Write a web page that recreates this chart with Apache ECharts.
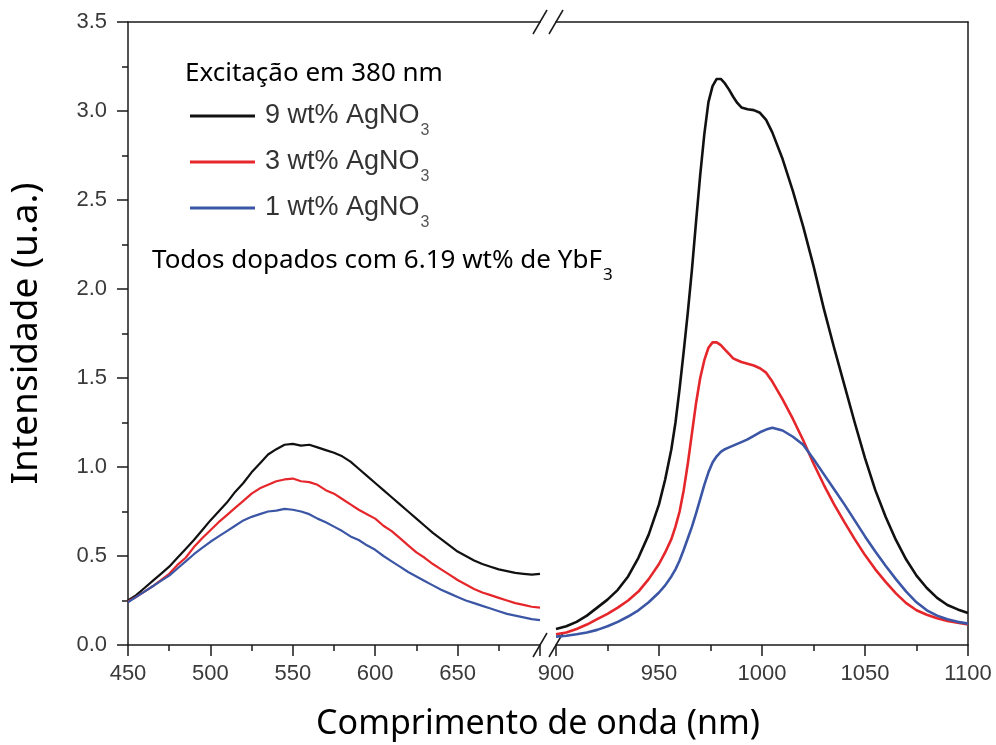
<!DOCTYPE html>
<html>
<head>
<meta charset="utf-8">
<script src="https://cdn.jsdelivr.net/npm/echarts@6/dist/echarts.min.js"></script>
<style>
  html, body { margin: 0; padding: 0; background: #ffffff; }
  #chart { width: 996px; height: 745px; }
</style>
</head>
<body>
<div id="chart"></div>
<script>
// Visible emission band, 450–700 nm
const visNm = [450,455,460,465,470,475,480,485,490,495,500,505,510,515,520,525,530,535,540,545,550,555,560,565,570,575,580,585,590,595,600,605,610,615,620,625,630,635,640,645,650,655,660,665,670,675,680,685,690,695,700];
const visAg9 = [0.25,0.28,0.32,0.36,0.40,0.44,0.49,0.54,0.59,0.645,0.70,0.75,0.80,0.86,0.91,0.97,1.02,1.07,1.10,1.125,1.13,1.12,1.125,1.11,1.095,1.08,1.06,1.03,0.99,0.95,0.91,0.87,0.83,0.79,0.75,0.71,0.67,0.63,0.595,0.56,0.525,0.50,0.475,0.455,0.44,0.425,0.415,0.405,0.40,0.395,0.40];
const visAg3 = [0.245,0.27,0.30,0.33,0.365,0.40,0.45,0.49,0.55,0.60,0.645,0.69,0.73,0.77,0.81,0.85,0.88,0.90,0.92,0.93,0.935,0.92,0.915,0.90,0.87,0.85,0.82,0.79,0.76,0.735,0.71,0.67,0.64,0.60,0.56,0.52,0.49,0.455,0.425,0.395,0.365,0.34,0.315,0.295,0.28,0.265,0.25,0.235,0.225,0.215,0.21];
const visAg1 = [0.24,0.27,0.30,0.33,0.36,0.39,0.43,0.47,0.51,0.545,0.58,0.61,0.64,0.67,0.70,0.72,0.735,0.75,0.755,0.765,0.76,0.75,0.735,0.71,0.69,0.665,0.64,0.61,0.59,0.56,0.535,0.50,0.47,0.44,0.41,0.385,0.36,0.335,0.31,0.29,0.27,0.25,0.235,0.22,0.205,0.19,0.175,0.165,0.155,0.145,0.14];

// Near-infrared emission band, 900–1100 nm
const nirNm = [900,905,910,915,920,925,930,935,940,945,950,953,956,958,960,962,964,966,968,970,972,974,976,978,980,982,984,986,988,990,993,996,999,1002,1005,1010,1015,1020,1025,1030,1035,1040,1045,1050,1055,1060,1065,1070,1075,1080,1085,1090,1095,1100];
const nirAg9 = [0.09,0.105,0.13,0.165,0.21,0.255,0.31,0.385,0.49,0.62,0.79,0.93,1.10,1.25,1.44,1.65,1.87,2.11,2.38,2.64,2.87,3.05,3.14,3.18,3.18,3.155,3.12,3.08,3.045,3.02,3.01,3.005,2.99,2.95,2.88,2.73,2.55,2.35,2.13,1.89,1.67,1.46,1.25,1.05,0.87,0.72,0.59,0.48,0.39,0.32,0.265,0.225,0.20,0.18];
const nirAg3 = [0.06,0.07,0.09,0.115,0.145,0.175,0.21,0.25,0.30,0.37,0.455,0.52,0.595,0.665,0.75,0.87,1.02,1.19,1.36,1.50,1.60,1.67,1.70,1.70,1.685,1.66,1.635,1.61,1.60,1.59,1.58,1.57,1.555,1.53,1.48,1.38,1.27,1.15,1.02,0.90,0.79,0.69,0.595,0.505,0.425,0.355,0.29,0.235,0.195,0.17,0.15,0.135,0.125,0.115];
const nirAg1 = [0.047,0.052,0.06,0.07,0.085,0.105,0.13,0.16,0.195,0.24,0.295,0.335,0.385,0.425,0.475,0.535,0.60,0.665,0.74,0.82,0.90,0.97,1.025,1.06,1.085,1.10,1.11,1.12,1.13,1.14,1.155,1.175,1.195,1.21,1.22,1.205,1.17,1.125,1.045,0.96,0.875,0.79,0.70,0.61,0.525,0.445,0.37,0.30,0.24,0.195,0.165,0.145,0.13,0.12];

const seriesNames = ['9 wt% AgNO3', '3 wt% AgNO3', '1 wt% AgNO3'];
const seriesColors = ['#111111', '#e5262b', '#3c56a6'];
const visSets = [visAg9, visAg3, visAg1];
const nirSets = [nirAg9, nirAg3, nirAg1];

// Layout of the broken x axis: two plot panels side by side
const plotTop = 22, plotBottom = 645;
const leftX0 = 128, leftX1 = 540;
const rightX0 = 556, rightX1 = 968;

const axisColor = '#1a1a1a';
const tickFont = { fontFamily: 'Liberation Sans', fontSize: 22, color: '#3a3a3a' };
const titleFont = '"Noto Sans"';

const pairs = (xs, ys) => xs.map((x, i) => [x, ys[i]]);

function bottomAxis(grid, min, max, showMax) {
  return {
    gridIndex: grid, type: 'value', position: 'bottom', min: min, max: max, interval: 50,
    axisLine: { show: true, onZero: false, lineStyle: { color: axisColor, width: 1.5 } },
    axisTick: { show: true, inside: false, length: 11, lineStyle: { color: axisColor, width: 1.5 } },
    minorTick: { show: true, splitNumber: 2, length: 6, lineStyle: { color: axisColor, width: 1.5 } },
    axisLabel: Object.assign({ margin: 18, showMaxLabel: showMax, formatter: v => String(v) }, tickFont),
    splitLine: { show: false }, minorSplitLine: { show: false }
  };
}
function topAxis(grid, min, max) {
  return {
    gridIndex: grid, type: 'value', position: 'top', min: min, max: max,
    axisLine: { show: true, onZero: false, lineStyle: { color: axisColor, width: 1.5 } },
    axisTick: { show: false }, axisLabel: { show: false }, splitLine: { show: false }
  };
}

const series = [];
seriesNames.forEach((name, k) => {
  series.push({
    type: 'line', name: name, xAxisIndex: 0, yAxisIndex: 0,
    data: pairs(visNm, visSets[k]), symbol: 'none', smooth: false,
    lineStyle: { color: seriesColors[k], width: 2.2 }, itemStyle: { color: seriesColors[k] }
  });
  series.push({
    type: 'line', name: name, xAxisIndex: 2, yAxisIndex: 1,
    data: pairs(nirNm, nirSets[k]), symbol: 'none', smooth: false,
    lineStyle: { color: seriesColors[k], width: 2.6, join: 'round' }, itemStyle: { color: seriesColors[k] }
  });
});

// Break marks "//" on the top and bottom frame lines
const breakMarks = [];
[plotTop, plotBottom].forEach(y => {
  [leftX1, rightX0].forEach(cx => {
    breakMarks.push({
      type: 'line', silent: true,
      shape: { x1: cx - 7, y1: y + 12, x2: cx + 7, y2: y - 12 },
      style: { stroke: axisColor, lineWidth: 1.5 }
    });
  });
});

const chart = echarts.init(document.getElementById('chart'), null, { renderer: 'canvas' });
chart.setOption({
  animation: false,
  backgroundColor: '#ffffff',
  grid: [
    { left: leftX0, top: plotTop, width: leftX1 - leftX0, height: plotBottom - plotTop },
    { left: rightX0, top: plotTop, width: rightX1 - rightX0, height: plotBottom - plotTop }
  ],
  xAxis: [
    bottomAxis(0, 450, 700, false),
    topAxis(0, 450, 700),
    bottomAxis(1, 900, 1100, true),
    topAxis(1, 900, 1100)
  ],
  yAxis: [
    {
      gridIndex: 0, type: 'value', position: 'left', min: 0, max: 3.5, interval: 0.5,
      axisLine: { show: true, onZero: false, lineStyle: { color: axisColor, width: 1.5 } },
      axisTick: { show: true, inside: false, length: 11, lineStyle: { color: axisColor, width: 1.5 } },
      minorTick: { show: true, splitNumber: 2, length: 6, lineStyle: { color: axisColor, width: 1.5 } },
      axisLabel: Object.assign({ margin: 21, formatter: v => v.toFixed(1) }, tickFont),
      splitLine: { show: false },
      name: 'Intensidade (u.a.)', nameLocation: 'middle', nameGap: 83,
      nameTextStyle: { fontFamily: titleFont, fontSize: 37, color: '#000000' }
    },
    {
      gridIndex: 1, type: 'value', position: 'right', min: 0, max: 3.5,
      axisLine: { show: true, onZero: false, lineStyle: { color: axisColor, width: 1.5 } },
      axisTick: { show: false }, axisLabel: { show: false }, splitLine: { show: false }
    }
  ],
  legend: {
    data: seriesNames, orient: 'vertical', left: 185, top: 97,
    icon: 'rect', itemWidth: 65, itemHeight: 3, itemGap: 9,
    formatter: n => '{a|' + n.slice(0, -1) + '}{s|' + n.slice(-1) + '}',
    textStyle: {
      rich: {
        a: { fontFamily: 'Liberation Sans', fontSize: 27, color: '#333333', lineHeight: 28, verticalAlign: 'top', padding: [0, 0, 0, 5] },
        s: { fontFamily: 'Liberation Sans', fontSize: 16, color: '#555555', lineHeight: 16, verticalAlign: 'top', padding: [21, 0, 0, 1] }
      }
    }
  },
  graphic: breakMarks.concat([
    {
      type: 'text', x: 185, y: 74, silent: true,
      style: { text: 'Excitação em 380 nm', font: '26px ' + titleFont, fill: '#000000', verticalAlign: 'middle' }
    },
    {
      type: 'text', x: 152, y: 248, silent: true,
      style: {
        text: '{n|Todos dopados com 6.19 wt% de YbF}{s|3}',
        rich: {
          n: { fontFamily: 'Noto Sans', fontSize: 26, fill: '#000000', lineHeight: 30, verticalAlign: 'top' },
          s: { fontFamily: 'Noto Sans', fontSize: 17, fill: '#000000', lineHeight: 17, verticalAlign: 'top', padding: [19, 0, 0, 1] }
        }
      }
    },
    {
      type: 'text', x: 538, y: 724, silent: true,
      style: { text: 'Comprimento de onda (nm)', font: '34px ' + titleFont, fill: '#000000', align: 'center', verticalAlign: 'middle' }
    }
  ]),
  series: series
});
</script>
</body>
</html>
